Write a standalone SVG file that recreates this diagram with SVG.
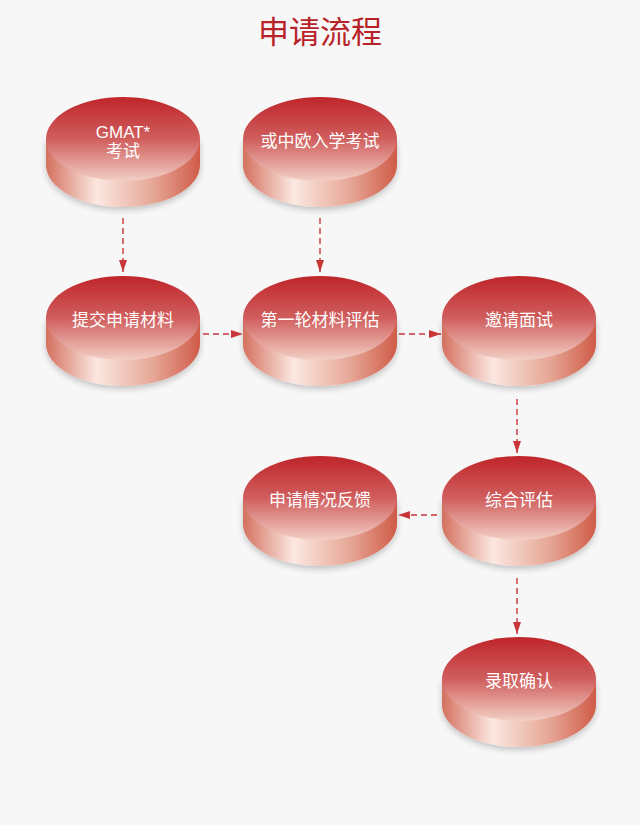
<svg xmlns="http://www.w3.org/2000/svg" xmlns:xlink="http://www.w3.org/1999/xlink" width="640" height="825" viewBox="0 0 640 825">
<style>
.title{font-family:"Noto Sans CJK SC","Liberation Sans",sans-serif;font-size:31px;fill:#b8232a;text-anchor:middle}
.lbl{font-family:"Liberation Sans","Noto Sans CJK SC",sans-serif;font-size:17px;fill:#ffffff;text-anchor:middle;dominant-baseline:central}
.conn{stroke:#c9363a;stroke-width:1.4;stroke-dasharray:6 4;fill:none}
</style>
<defs>
<linearGradient id="topG" x1="0" y1="0" x2="0" y2="1">
<stop offset="0" stop-color="#bf252a"/>
<stop offset="0.5" stop-color="#d05e5d"/>
<stop offset="1" stop-color="#f2cfc5"/>
</linearGradient>
<linearGradient id="sideG" x1="0" y1="0" x2="1" y2="0">
<stop offset="0" stop-color="#d4705f"/>
<stop offset="0.33" stop-color="#fbe8e1"/>
<stop offset="0.7" stop-color="#e6a695"/>
<stop offset="1" stop-color="#cf5b48"/>
</linearGradient>
<filter id="sh" x="-20%" y="-20%" width="140%" height="150%">
<feGaussianBlur in="SourceAlpha" stdDeviation="3"/>
<feOffset dy="3" result="b"/>
<feComponentTransfer><feFuncA type="linear" slope="0.22"/></feComponentTransfer>
<feMerge><feMergeNode/><feMergeNode in="SourceGraphic"/></feMerge>
</filter>
<g id="disc">
<path d="M-77,0 L-77,26 A77,42 0 0 0 77,26 L77,0 Z" fill="url(#sideG)" filter="url(#sh)"/>
<ellipse cx="0" cy="0" rx="77" ry="42" fill="url(#topG)"/>
</g>
<marker id="ah" viewBox="0 0 12 8" refX="12" refY="4" markerWidth="12" markerHeight="8" markerUnits="userSpaceOnUse" orient="auto">
<path d="M0,0 L12,4 L0,8 Z" fill="#c9363a"/>
</marker>
</defs>
<rect width="640" height="825" fill="#f7f7f7"/>
<text class="title" x="320" y="43">申请流程</text>
<g id="connectors">
<line class="conn" x1="123" y1="218" x2="123" y2="272" marker-end="url(#ah)"/>
<line class="conn" x1="320" y1="218" x2="320" y2="272" marker-end="url(#ah)"/>
<line class="conn" x1="203" y1="334" x2="243" y2="334" marker-end="url(#ah)"/>
<line class="conn" x1="399" y1="334" x2="441" y2="334" marker-end="url(#ah)"/>
<line class="conn" x1="517" y1="399" x2="517" y2="453" marker-end="url(#ah)"/>
<line class="conn" x1="437" y1="515" x2="398" y2="515" marker-end="url(#ah)"/>
<line class="conn" x1="517" y1="578" x2="517" y2="634" marker-end="url(#ah)"/>
</g>
<g id="n-gmat" transform="translate(123,139)"><use xlink:href="#disc"/><text class="lbl" x="0" y="-7" font-size="18">GMAT*</text><text class="lbl" x="0" y="12">考试</text></g>
<g id="n-exam" transform="translate(320,139)"><use xlink:href="#disc"/><text class="lbl" x="0" y="2">或中欧入学考试</text></g>
<g id="n-submit" transform="translate(123,318)"><use xlink:href="#disc"/><text class="lbl" x="0" y="2">提交申请材料</text></g>
<g id="n-first" transform="translate(320,318)"><use xlink:href="#disc"/><text class="lbl" x="0" y="2">第一轮材料评估</text></g>
<g id="n-interview" transform="translate(519,318)"><use xlink:href="#disc"/><text class="lbl" x="0" y="2">邀请面试</text></g>
<g id="n-feedback" transform="translate(320,498)"><use xlink:href="#disc"/><text class="lbl" x="0" y="2">申请情况反馈</text></g>
<g id="n-overall" transform="translate(519,498)"><use xlink:href="#disc"/><text class="lbl" x="0" y="2">综合评估</text></g>
<g id="n-admit" transform="translate(519,679)"><use xlink:href="#disc"/><text class="lbl" x="0" y="2">录取确认</text></g>
</svg>
